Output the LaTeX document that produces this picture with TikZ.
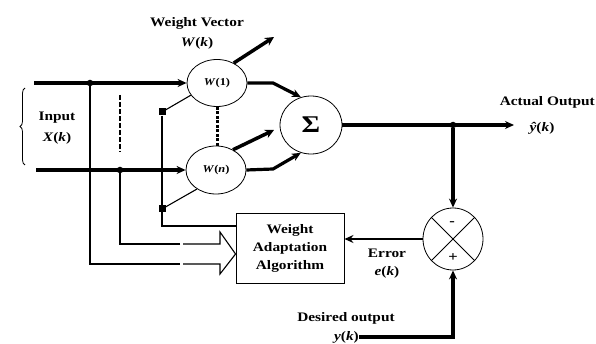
\documentclass[tikz,border=0pt]{standalone}
\usepackage{fontspec}
\setmainfont{Liberation Serif}[FakeStretch=1.18]
\usetikzlibrary{shapes.geometric,arrows.meta,decorations.pathreplacing,calc}
\begin{document}
\begin{tikzpicture}[x=1pt,y=-1pt,
  lbl/.style={font=\fontsize{13}{18}\selectfont\bfseries, inner sep=0pt, align=center},
  wlbl/.style={font=\fontsize{10.5}{12}\selectfont\bfseries},
  wcirc/.style={draw, ellipse, line width=0.8pt, inner sep=0pt},
  thickln/.style={line width=3.2pt},
  medln/.style={line width=2pt},
  thinln/.style={line width=1.1pt},
  tip/.style={-{Stealth[length=9pt,width=8pt]}},
  dot/.style={fill, circle, inner sep=0pt, minimum size=6.5pt},
  sqdot/.style={fill, rectangle, inner sep=0pt, minimum size=7pt},
  wtarrow/.style={line width=3.5pt, -{Stealth[length=9pt,width=9pt]}}]
\useasboundingbox (0,0) rectangle (596,344);
\fill[white] (0,0) rectangle (596,344);

% main nodes
\node[wcirc, minimum width=60pt, minimum height=47pt, wlbl] (w1) at (217,83) {\textit{W}(1)};
\node[wcirc, minimum width=60pt, minimum height=48pt, wlbl] (wn) at (216,170) {\textit{W}(\textit{n})};
\node[wcirc, minimum width=62pt, minimum height=58pt, font=\fontsize{24}{24}\selectfont\bfseries] (sig) at (311,125) {Σ};
\node[wcirc, minimum width=60pt, minimum height=62pt] (err) at (453,239) {};
\node[draw, line width=0.9pt, minimum width=108pt, minimum height=70pt, lbl] (box) at (290,248) {Weight\\Adaptation\\Algorithm};

% labels
\node[lbl] (wvt) at (197,23) {Weight Vector};
\node[lbl] (wvk) at (197,43) {\textit{W}(\textit{k})};
\node[lbl] (inp) at (57,118) {Input};
\node[lbl] (inx) at (57,138) {\textit{X}(\textit{k})};
\node[lbl, anchor=east] (aot) at (595,102) {Actual Output};
\node[lbl] (aoy) at (542,128) {\textit{ŷ}(\textit{k})};
\node[lbl] (ert) at (387,253) {Error};
\node[lbl] (erk) at (387,272) {\textit{e}(\textit{k})};
\node[lbl] (dst) at (346,318) {Desired output};
\node[lbl, anchor=east] (dsy) at (359,337) {\textit{y}(\textit{k})};
\node[font=\fontsize{14}{14}\selectfont\bfseries, inner sep=0pt] (minus) at (452,224) {-};
\node[font=\fontsize{14}{14}\selectfont\bfseries, inner sep=0pt] (plus) at (453,258) {+};

% dots and coordinates
\node[dot] (d1) at (90,83) {};
\node[dot] (d2) at (120,170) {};
\node[sqdot] (d3) at (162,112) {};
\node[sqdot] (d4) at (162,209) {};
\node[dot] (d5) at (453,125) {};
\coordinate (in1) at (34,83);
\coordinate (in2) at (36,170);
\coordinate (dv1) at (120,95);
\coordinate (dv2) at (120,152);
\coordinate (wa1) at (274,37);
\coordinate (wa2) at (274,130);
\coordinate (outend) at (514,125);
\coordinate (br1) at (25,165);
\coordinate (br2) at (25,88);
\coordinate (s1) at (273,83);
\coordinate (s2) at (273,169);

% input lines
\draw[thickln, tip] (in1) -- (w1.west);
\draw[thickln, tip] (in2) -- (wn.west);
\draw[line width=2pt, dash pattern=on 5pt off 2pt] (dv1) -- (dv2);
\draw[decorate, decoration={brace, amplitude=5pt}, line width=0.8pt] (br1) -- (br2);

% weight circles
\draw[line width=3pt, dash pattern=on 3pt off 1.5pt] (w1.south) -- (w1.south |- wn.north);
\draw[wtarrow] (w1.50) -- (wa1);
\draw[wtarrow] (wn.50) -- (wa2);
\draw[thinln] (d3) -- (w1.205);
\draw[thinln] (d4) -- (wn.225);

% to summer
\draw[thickln, tip] (w1.east) -- (s1) -- (sig.110);
\draw[thickln, tip] (wn.east) -- (s2) -- (sig.250);
\draw[thickln, tip] (sig.east) -- (outend);
\draw[thickln, tip] (d5) -- (err.north);

% error comparator
\draw[line width=0.8pt] (err.45) -- (err.225) (err.135) -- (err.315);
\draw[medln, tip] (err.west) -- (err.west -| box.east);
\draw[thickln, tip] (dsy.east) -- (dsy.east -| err.south) -- (err.south);

% feedback lines
\draw[thinln] (d3) |- ([yshift=22pt]box.west);
\draw[thinln] (d1) -- (90,264) -- (180,264);
\draw[thinln] (183,264) -- (220,264) -- (220,274) -- ([yshift=-6pt]box.west) -- (220,232) -- (220,244) -- (183,244);
\draw[thinln] (180,244) -- (120,244) -- (d2);
\end{tikzpicture}
\end{document}
